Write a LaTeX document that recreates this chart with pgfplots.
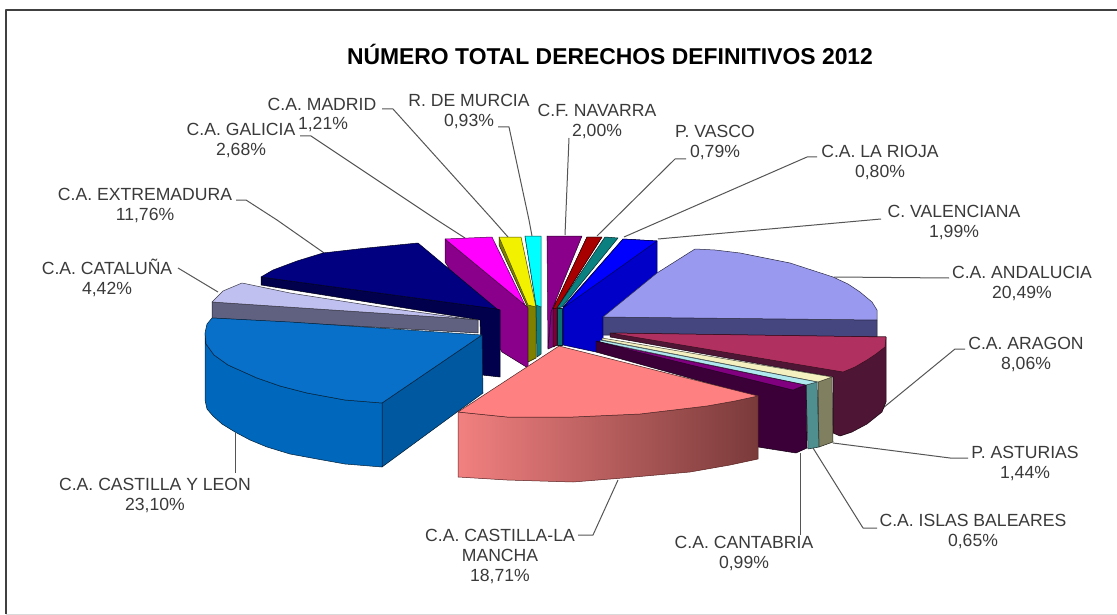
\documentclass[border=0pt]{standalone}
\usepackage{pgfplots}
\pgfplotsset{compat=1.18}
\usepackage{fontspec}
\setmainfont{Liberation Sans}
\definecolor{txt}{HTML}{3A3A3A}
\definecolor{lead}{HTML}{555555}
\definecolor{clmL}{HTML}{F28080}
\definecolor{clmR}{HTML}{7A3A3A}
\definecolor{clmE}{HTML}{5A2020}
\tikzset{lab/.style={font=\fontsize{17.6}{20}\selectfont, text=txt, align=center, inner sep=0pt}}
\begin{document}
\begin{tikzpicture}
\begin{axis}[
  scale only axis, width=1117pt, height=615pt,
  xmin=0, xmax=1117, ymin=0, ymax=615, y dir=reverse,
  hide axis, clip=true,
  every axis plot/.append style={line join=round},
  ln/.style={draw=lead, line width=1pt, no markers},
  f/.style={/utils/exec={\definecolor{cf}{HTML}{#1}}, fill=cf, draw=black!70!cf, line width=0.5pt, no markers},
]
% page extent
\addplot[fill=white, draw=none, no markers] coordinates {(0,0)(1117,0)(1117,615)(0,615)} -- cycle;
% frame
\addplot[draw=black!15, line width=1pt, no markers] coordinates {(6,614) (1117,614)};
\addplot[draw=black!75, line width=1.6pt, no markers] coordinates {(6,614) (6,10) (1117,10)};
% leader lines
\addplot[ln] coordinates {(382,109)(393,109)(493,220)(508,237)};
\addplot[ln] coordinates {(300,136)(311,136)(437,220)(465,238)};
\addplot[ln] coordinates {(498,127)(509,127)(529,220)(532,236)};
\addplot[ln] coordinates {(236,200)(246,200)(277,220)(327,255)};
\addplot[ln] coordinates {(178,268)(218,292)};
\addplot[ln] coordinates {(235,433)(235,473)};
\addplot[ln] coordinates {(618,480)(593,535)(578,535)};
\addplot[ln] coordinates {(800,453)(800,535)};
\addplot[ln] coordinates {(813,448)(863,528)(877,528)};
\addplot[ln] coordinates {(833,443)(950,458)(968,458)};
\addplot[ln] coordinates {(883,408)(955,349)(965,349)};
\addplot[ln] coordinates {(834,277)(949,278)};
\addplot[ln] coordinates {(658,239)(881,219)};
\addplot[ln] coordinates {(624,237)(807,157)(817,157)};
\addplot[ln] coordinates {(597,236)(675,159)(686,159)};
\addplot[ln] coordinates {(565,235)(569,138)};
% Galicia
\addplot[f={8B008B}] coordinates {(445,239)(445,262)(502,352)(528,368)(528,307)(525,305)} -- cycle;
\addplot[f={FF00FF}] coordinates {(445,239)(492,237)(525,305)} -- cycle;
% Madrid (yellow)
\addplot[f={808000}] coordinates {(499,237)(499,245)(528,308)(528,362)(536,358)(536,307)} -- cycle;
\addplot[f={F2F200}] coordinates {(499,237)(521,237)(536,307)(528,305)} -- cycle;
% Murcia (cyan)
\addplot[f={0F7F80}] coordinates {(525,236)(536,305)(537,357)(541,354)(541,307)} -- cycle;
\addplot[f={00FFFF}] coordinates {(525,236)(541,236)(541,307)(536,305)} -- cycle;
% Navarra
\addplot[f={7A0A7A}] coordinates {(547,236)(551,312)(548,349)(557,345)(557,308)} -- cycle;
\addplot[f={8B008B}] coordinates {(547,236)(582,236)(551,312)(548,349)} -- cycle;
% La Rioja (dark red)
\addplot[f={7A0035}] coordinates {(553,309)(587,237)(602,237)(557,308)(557,345)(553,347)} -- cycle;
\addplot[f={A80000}] coordinates {(587,237)(602,237)(557,308)(553,309)} -- cycle;
% Vasco (teal)
\addplot[f={0A7070}] coordinates {(557,308)(562,308)(562,345)(557,345)} -- cycle;
\addplot[f={0A8080}] coordinates {(605,237)(618,238)(562,307)(557,308)} -- cycle;
% Valenciana
\addplot[f={0000C8}] coordinates {(623,239)(657,241)(657,277)(603,317)(603,350)(596,352)(563,345)(563,307)} -- cycle;
\addplot[f={0000FF}] coordinates {(623,239)(657,241)(563,308)} -- cycle;
% Extremadura
\addplot[f={00004D}] coordinates {(261,277)(261,285)(480,320)(482,375)(500,377)(500,310)(497,309)} -- cycle;
\addplot[f={000080}] coordinates {(261,277)(273,270)(297,261)(323,253)(367,248)(418,243)(497,309)} -- cycle;
% Cataluna
\addplot[f={606080}] coordinates {(212,302)(212,318)(478,333)(478,320)(468,319)} -- cycle;
\addplot[f={C0C0F0}] coordinates {(212,302)(223,291)(242,283)(290,293)(380,307)(468,319)} -- cycle;
% Castilla y Leon
\addplot[f={0058A0}] coordinates {(382,403)(482,335)(483,393)(382,467)} -- cycle;
\addplot[f={0068BC}] coordinates {(205,333)(206,344)(214,355)(228,365)(257,378)(280,386)(307,393)(345,400)(382,403)(382,467)(345,464)(317,459)(290,454)(267,447)(250,440)(235,432)(222,424)(213,416)(207,409)(205,400)} -- cycle;
\addplot[f={0870C8}] coordinates {(212,318)(207,324)(205,333)(206,344)(214,355)(228,365)(257,378)(280,386)(307,393)(345,400)(382,403)(482,335)(290,322)} -- cycle;
% Andalucia
\addplot[f={45457F}] coordinates {(603,317)(877,320)(877,337)(603,335)} -- cycle;
\addplot[f={9999F0}] coordinates {(603,317)(657,273)(695,249)(715,250)(740,253)(790,263)(833,277)(848,284)(860,292)(872,302)(877,310)(877,320)} -- cycle;
% Aragon
\addplot[f={4F1535}] coordinates {(610,333)(610,337)(833,377)(833,433)(840,436)(852,432)(867,424)(882,412)(886,402)(886,337)} -- cycle;
\addplot[f={B03060}] coordinates {(610,333)(886,337)(885,347)(876,354)(867,360)(855,367)(843,372)} -- cycle;
% Asturias
\addplot[f={808060}] coordinates {(818,382)(832,377)(833,442)(819,447)} -- cycle;
\addplot[f={F5F0C0}] coordinates {(602,338)(832,377)(818,382)(602,340)} -- cycle;
% Baleares
\addplot[f={4F8F8F}] coordinates {(806,385)(817,382)(819,447)(808,449)} -- cycle;
\addplot[f={B0E8F0}] coordinates {(600,340)(817,382)(806,385)(600,342)} -- cycle;
% Cantabria
\addplot[f={3B0038}] coordinates {(596,341)(793,390)(806,385)(807,448)(796,453)(758,447)(758,397)(596,352)} -- cycle;
\addplot[f={800080}] coordinates {(597,342)(805,385)(793,390)} -- cycle;
% Castilla-La Mancha
\addplot[draw=clmE, line width=0.5pt, no markers, left color=clmL, right color=clmR]
 coordinates {(458,412)(458,477)(507,480)(573,482)(623,478)(690,472)(730,465)(758,459)(758,396)(735,401)(707,406)(640,414)(573,417)(507,417)} -- cycle;
\addplot[f={FF8080}] coordinates {(559,346)(758,396)(735,401)(707,406)(640,414)(573,417)(507,417)(458,412)} -- cycle;
% title and labels
\node[font=\fontsize{22.9}{25}\selectfont\bfseries, text=black, inner sep=0pt] at (axis cs:610,54) {NÚMERO TOTAL DERECHOS DEFINITIVOS 2012};
\node[lab] at (axis cs:322,104) {C.A. MADRID};
\node[lab] at (axis cs:323,124) {1,21\%};
\node[lab] at (axis cs:241,140.5) {C.A. GALICIA\\2,68\%};
\node[lab] at (axis cs:469,111) {R. DE MURCIA\\0,93\%};
\node[lab] at (axis cs:597,121.5) {C.F. NAVARRA\\2,00\%};
\node[lab] at (axis cs:715,142) {P. VASCO\\0,79\%};
\node[lab] at (axis cs:880,162) {C.A. LA RIOJA\\0,80\%};
\node[lab] at (axis cs:954,222.5) {C. VALENCIANA\\1,99\%};
\node[lab] at (axis cs:1022,283.5) {C.A. ANDALUCIA\\20,49\%};
\node[lab] at (axis cs:1026,354) {C.A. ARAGON\\8,06\%};
\node[lab] at (axis cs:1025,463.5) {P. ASTURIAS\\1,44\%};
\node[lab] at (axis cs:973,531.5) {C.A. ISLAS BALEARES\\0,65\%};
\node[lab] at (axis cs:744,553) {C.A. CANTABRIA\\0,99\%};
\node[lab] at (axis cs:500,556) {C.A. CASTILLA-LA\\MANCHA\\18,71\%};
\node[lab] at (axis cs:155,495) {C.A. CASTILLA Y LEON\\23,10\%};
\node[lab] at (axis cs:145,205.5) {C.A. EXTREMADURA\\11,76\%};
\node[lab] at (axis cs:107,278) {C.A. CATALUÑA\\4,42\%};
\end{axis}
\end{tikzpicture}
\end{document}
